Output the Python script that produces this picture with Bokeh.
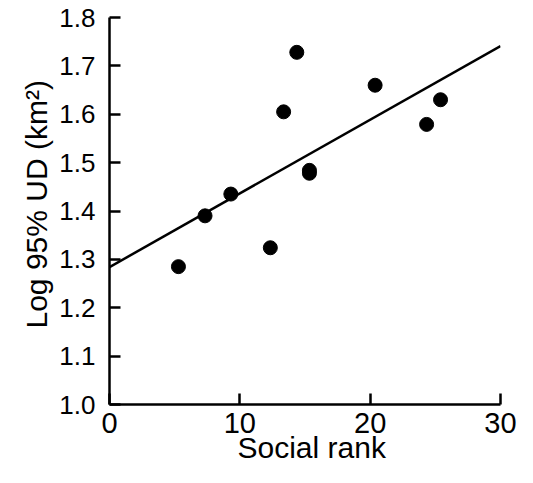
from bokeh.plotting import figure
from bokeh.models import Range1d, FixedTicker, NumeralTickFormatter, Title
from bokeh.embed import file_html
from bokeh.resources import INLINE

# Data
social_rank = [5.29, 7.33, 9.31, 12.34, 13.36, 14.37, 15.34, 15.34, 20.38, 24.33, 25.40]
log_ud95 = [1.285, 1.390, 1.435, 1.324, 1.605, 1.728, 1.484, 1.478, 1.660, 1.579, 1.630]
fit_x = [0, 30]
fit_y = [1.284, 1.741]
x_ticks = [0, 10, 20, 30]
y_ticks = [1.0, 1.1, 1.2, 1.3, 1.4, 1.5, 1.6, 1.7, 1.8]
x_title = "Social rank"
y_title = "Log 95% UD (km\u00b2)"

FONT = "Liberation Sans"

p = figure(width=517, height=467, output_backend="svg", toolbar_location=None,
           x_range=Range1d(0, 30), y_range=Range1d(1.0, 1.8),
           min_border_left=109, min_border_right=17, min_border_top=17, min_border_bottom=63)
p.outline_line_color = None
p.grid.visible = False
p.background_fill_color = "white"
p.border_fill_color = "white"

p.line(fit_x, fit_y, line_color="black", line_width=2.5)
p.scatter(social_rank, log_ud95, marker="circle", size=14, fill_color="black", line_color="black")

for ax in (p.xaxis[0], p.yaxis[0]):
    ax.axis_line_width = 2.5
    ax.axis_line_color = "black"
    ax.major_tick_line_width = 2.5
    ax.major_tick_line_color = "black"
    ax.major_tick_in = 11
    ax.major_tick_out = 0
    ax.minor_tick_line_color = None
    ax.major_label_text_font = FONT
    ax.major_label_text_color = "black"

p.xaxis.ticker = FixedTicker(ticks=x_ticks)
p.yaxis.ticker = FixedTicker(ticks=y_ticks)
p.yaxis.formatter = NumeralTickFormatter(format="0.0")
p.xaxis.major_label_text_font_size = "29px"
p.yaxis.major_label_text_font_size = "26px"
p.xaxis.major_label_standoff = 8
p.yaxis.major_label_standoff = 14

xt = Title(text=x_title, text_font=FONT, text_font_size="30px", text_font_style="normal",
           text_color="black", align="left", offset=128, standoff=-13)
p.add_layout(xt, "below")
yt = Title(text=y_title, text_font=FONT, text_font_size="30px", text_font_style="normal",
           text_color="black", align="left", offset=76, standoff=7)
p.add_layout(yt, "left")

open("out.html", "w").write(file_html(p, INLINE))
